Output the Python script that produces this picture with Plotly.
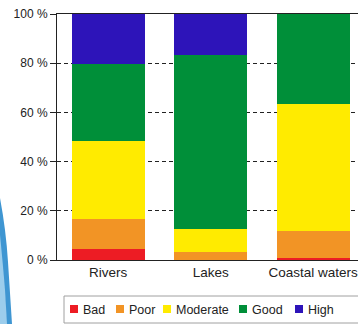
import plotly.graph_objects as go

categories = ["Rivers", "Lakes", "Coastal waters"]
bad = [4.3, 0.0, 0.8]
poor = [12.2, 3.3, 11.0]
moderate = [31.7, 9.3, 51.8]
good = [31.6, 70.7, 36.4]
high = [20.2, 16.7, 0.0]

series_names = ["Bad", "Poor", "Moderate", "Good", "High"]
series_values = [bad, poor, moderate, good, high]
colors = ["#ED1C24", "#F29425", "#FFEB00", "#008F39", "#2D14B9"]

tick_vals = [0, 20, 40, 60, 80, 100]
tick_text = ["0 %", "20 %", "40 %", "60 %", "80 %", "100 %"]

W, H = 358, 324
L, R, T, B = 57, 0, 14, 64
PW, PH = W - L - R, H - T - B


def px(x):
    return (x - L) / PW


def py(y):
    return (H - B - y) / PH


fig = go.Figure()
for name, vals, col in zip(series_names, series_values, colors):
    fig.add_trace(go.Bar(x=categories, y=vals, name=name,
                         marker=dict(color=col, line=dict(width=0)),
                         hoverinfo="skip", showlegend=False))

# custom legend (box, swatches, labels)
legend_sw_x = [70, 116, 163, 239, 295]
shapes = [dict(type="rect", xref="paper", yref="paper",
               x0=px(64), x1=px(362), y0=py(323), y1=py(296),
               line=dict(color="#A0A0A0", width=1), fillcolor="white", layer="above")]
annotations = []
for name, col, sx in zip(series_names, colors, legend_sw_x):
    shapes.append(dict(type="rect", xref="paper", yref="paper",
                       x0=px(sx), x1=px(sx + 8), y0=py(313), y1=py(305),
                       line=dict(width=0), fillcolor=col, layer="above"))
    annotations.append(dict(xref="paper", yref="paper", x=px(sx + 11), y=py(309.5),
                            xanchor="left", yanchor="middle", text=name,
                            showarrow=False, font=dict(size=12.5, color="#222")))

# blue decoration at the lower left edge (two layers for a gradient feel)
shapes.append(dict(type="path", xref="paper", yref="paper",
                   path=f"M {px(0)},{py(198)} Q {px(6)},{py(230)} {px(8)},{py(262)} "
                        f"L {px(12)},{py(324)} L {px(0)},{py(324)} Z",
                   line=dict(width=0), fillcolor="#3F96D2", layer="below"))
shapes.append(dict(type="path", xref="paper", yref="paper",
                   path=f"M {px(0)},{py(235)} Q {px(3)},{py(265)} {px(5)},{py(290)} "
                        f"L {px(7)},{py(324)} L {px(0)},{py(324)} Z",
                   line=dict(width=0), fillcolor="#9CCDEC", layer="below"))

fig.update_layout(
    barmode="stack",
    bargap=0.29,
    width=W, height=H,
    margin=dict(l=L, r=R, t=T, b=B),
    paper_bgcolor="white", plot_bgcolor="white",
    font=dict(family="Liberation Sans, Arial, sans-serif", size=12, color="#222"),
    showlegend=False,
    shapes=shapes,
    annotations=annotations,
)
fig.update_xaxes(range=[-0.5, 2.437], showline=True, linecolor="#222", linewidth=1,
                 mirror=True, ticks="", showgrid=False, tickfont=dict(size=13.5))
fig.update_yaxes(range=[0, 100], tickvals=tick_vals, ticktext=tick_text,
                 showline=True, linecolor="#222", linewidth=1,
                 ticks="outside", ticklen=6, tickcolor="#222",
                 showgrid=True, gridcolor="#222", griddash="4px,3px", gridwidth=1,
                 zeroline=False, tickfont=dict(size=12))

fig.write_html("out.html")
